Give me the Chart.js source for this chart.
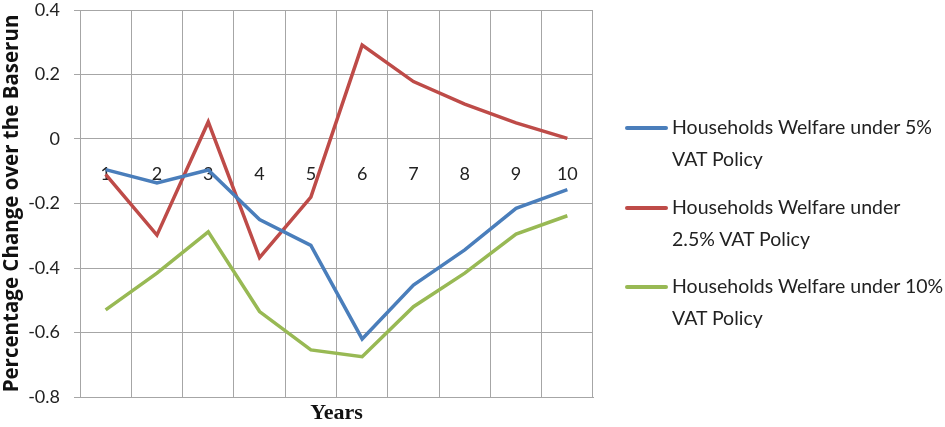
<!DOCTYPE html>
<html>
<head>
<meta charset="utf-8">
<script src="https://cdn.jsdelivr.net/npm/chart.js@4.4.1/dist/chart.umd.min.js"></script>
<style>
  html, body { margin: 0; padding: 0; background: #fff; }
  #wrap { position: relative; width: 945px; height: 427px; }
  #legend { position: absolute; left: 625px; top: 111px; font-family: Lato, sans-serif; font-size: 19.5px; color: #222; }
  .item { position: relative; padding-left: 47px; line-height: 32px; margin-bottom: 15.5px; }
  .item span { position: absolute; left: 0; top: 15px; width: 43px; height: 4px; border-radius: 2px; }
</style>
</head>
<body>
<div id="wrap">
  <canvas id="chart" width="945" height="427"></canvas>
  <div id="legend"></div>
</div>
<script>
const years = ["1", "2", "3", "4", "5", "6", "7", "8", "9", "10"];
const vat5 = [-0.095, -0.136, -0.096, -0.25, -0.33, -0.62, -0.453, -0.344, -0.215, -0.157];
const vat25 = [-0.11, -0.298, 0.053, -0.368, -0.18, 0.291, 0.178, 0.108, 0.05, 0.002];
const vat10 = [-0.53, -0.416, -0.288, -0.535, -0.654, -0.675, -0.52, -0.416, -0.295, -0.238];
const seriesNames = [
  ["Households Welfare under 5%", "VAT Policy"],
  ["Households Welfare under", "2.5% VAT Policy"],
  ["Households Welfare under 10%", "VAT Policy"]
];
const colors = ["#4a7ebb", "#be4b48", "#98b954"];

const gridColor = "#a6a6a6";

const ctx = document.getElementById("chart");
const chart = new Chart(ctx, {
  type: "line",
  data: {
    labels: years,
    datasets: [vat5, vat25, vat10].map((d, i) => ({
      label: seriesNames[i].join(" "),
      data: d,
      borderColor: colors[i],
      borderWidth: 3.5,
      pointRadius: 0,
      tension: 0,
      xAxisID: "x"
    }))
  },
  options: {
    responsive: false,
    animation: false,
    layout: { padding: { top: 10, right: 352, left: 0, bottom: 0 } },
    plugins: { legend: { display: false }, tooltip: { enabled: false } },
    scales: {
      x: {
        type: "category",
        position: "bottom",
        offset: true,
        grid: { color: gridColor, lineWidth: 1, offset: true, drawTicks: false },
        border: { color: gridColor, width: 1 },
        ticks: { display: false },
        title: {
          display: true,
          text: "Years",
          font: { family: "'Liberation Serif', serif", size: 22, weight: "bold" },
          color: "#111",
          padding: { top: 2, bottom: 0 }
        },
        afterFit: (s) => { s.height = 30; }
      },
      xLabels: {
        type: "category",
        labels: years,
        position: { y: 0 },
        offset: true,
        grid: { display: false, drawTicks: false },
        border: { display: false },
        ticks: {
          padding: 24,
          color: "#222",
          font: { family: "Lato, sans-serif", size: 18 },
          maxRotation: 0
        }
      },
      y: {
        min: -0.8,
        max: 0.4,
        ticks: {
          stepSize: 0.2,
          padding: 14,
          color: "#222",
          font: { family: "Lato, sans-serif", size: 18 },
          callback: (v) => {
            const r = Math.round(v * 10) / 10;
            return r === 0 ? "0" : String(r);
          }
        },
        grid: { color: gridColor, lineWidth: 1, tickLength: 6 },
        border: { color: gridColor, width: 1 },
        title: {
          display: true,
          text: "Percentage Change over the Baserun",
          font: { family: "'Open Sans', sans-serif", size: 20.5, weight: "bold" },
          color: "#111",
          padding: { top: 0, bottom: 0 }
        },
        afterFit: (s) => {
          s.width = 80;
          s.paddingTop = 0;
          s.paddingBottom = 0;
        }
      }
    }
  },
  plugins: [{
    id: "topBorder",
    afterDraw(c) {
      const a = c.chartArea;
      const g = c.ctx;
      g.save();
      g.strokeStyle = gridColor;
      g.lineWidth = 1;
      g.beginPath();
      g.moveTo(a.left, a.top + 0.5);
      g.lineTo(a.right, a.top + 0.5);
      g.stroke();
      g.restore();
    }
  }]
});

// legend built from the datasets
const legendBox = document.getElementById("legend");
chart.data.datasets.forEach((ds, i) => {
  const item = document.createElement("div");
  item.className = "item";
  const swatch = document.createElement("span");
  swatch.style.background = ds.borderColor;
  item.appendChild(swatch);
  item.appendChild(document.createTextNode(seriesNames[i][0]));
  item.appendChild(document.createElement("br"));
  item.appendChild(document.createTextNode(seriesNames[i][1]));
  legendBox.appendChild(item);
});
</script>
</body>
</html>
